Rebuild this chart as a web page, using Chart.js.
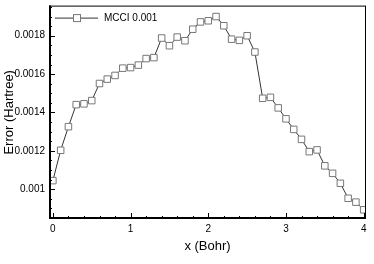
<!DOCTYPE html>
<html>
<head>
<meta charset="utf-8">
<script src="https://cdn.jsdelivr.net/npm/chart.js@4"></script>
<style>
  html, body { margin: 0; padding: 0; background: #fff; }
  #wrap { width: 374px; height: 264px; }
</style>
</head>
<body>
<div id="wrap"><canvas id="grafico" width="374" height="264"></canvas></div>
<script>
// data
const distancias = [0, 0.1, 0.2, 0.3, 0.4, 0.5, 0.6, 0.7, 0.8, 0.9,
  1.0, 1.1, 1.2, 1.3, 1.4, 1.5, 1.6, 1.7, 1.8, 1.9,
  2.0, 2.1, 2.2, 2.3, 2.4, 2.5, 2.6, 2.7, 2.8, 2.9,
  3.0, 3.1, 3.2, 3.3, 3.4, 3.5, 3.6, 3.7, 3.8, 3.9, 4.0];
const erros = [0.001045, 0.001203, 0.001326, 0.001441, 0.001445, 0.001462, 0.001551, 0.001574, 0.001593, 0.001631,
  0.001634, 0.001647, 0.001681, 0.001686, 0.001788, 0.001748, 0.001793, 0.001774, 0.001834, 0.001872,
  0.001878, 0.001900, 0.001852, 0.001782, 0.001776, 0.001800, 0.001715, 0.001474, 0.001479, 0.001424,
  0.001367, 0.001312, 0.001260, 0.001196, 0.001205, 0.001122, 0.001083, 0.001031, 0.000953, 0.000933, 0.000893];
const nomeSerie = 'MCCI 0.001';
const ticksX = [0, 1, 2, 3, 4];
const ticksY = [0.001, 0.0012, 0.0014, 0.0016, 0.0018];

const fonte = 'Liberation Sans, Arial, Helvetica, sans-serif';

function semMargens(s) {
  s.paddingTop = 0; s.paddingBottom = 0; s.paddingLeft = 0; s.paddingRight = 0;
}

// inward ticks, minor ticks and the box around the plot
const moldura = {
  id: 'moldura',
  afterDatasetsDraw(chart) {
    const { ctx, chartArea: a, scales: { x, y } } = chart;
    ctx.save();
    ctx.strokeStyle = '#000';
    ctx.lineWidth = 1;
    ctx.beginPath();
    for (let v = 0; v <= 4.001; v += 0.2) {
      const px = Math.round(x.getPixelForValue(v)) + 0.5;
      const major = Math.abs(v - Math.round(v)) < 1e-6;
      ctx.moveTo(px, a.bottom);
      ctx.lineTo(px, a.bottom - (major ? 6 : 3));
    }
    for (let v = 0.00085; v <= 0.00195; v += 0.00005) {
      const py = Math.round(y.getPixelForValue(v)) + 0.5;
      const major = ticksY.some(t => Math.abs(t - v) < 1e-9);
      ctx.moveTo(a.left, py);
      ctx.lineTo(a.left + (major ? 6 : 3), py);
    }
    ctx.stroke();
    ctx.lineWidth = 1;
    ctx.strokeRect(a.left + 0.5, a.top + 0.5, a.right - a.left - 1, a.bottom - a.top - 1);
    ctx.lineWidth = 2;
    ctx.beginPath();
    ctx.moveTo(a.left + 1, a.top);
    ctx.lineTo(a.left + 1, a.bottom - 1);
    ctx.lineTo(a.right, a.bottom - 1);
    ctx.stroke();

    // legend inside the plot
    const ds = chart.data.datasets[0];
    const ly = a.top + 12.5;
    ctx.lineWidth = 1;
    ctx.strokeStyle = ds.borderColor;
    ctx.beginPath();
    ctx.moveTo(a.left + 6, ly);
    ctx.lineTo(a.left + 49, ly);
    ctx.stroke();
    ctx.fillStyle = '#fff';
    ctx.strokeStyle = ds.pointBorderColor;
    ctx.fillRect(a.left + 24.5, ly - 3.5, 7, 7);
    ctx.strokeRect(a.left + 24.5, ly - 3.5, 7, 7);
    ctx.fillStyle = '#000';
    ctx.font = '10px ' + fonte;
    ctx.textBaseline = 'middle';
    ctx.fillText(ds.label, a.left + 55, ly);
    ctx.restore();
  }
};

const ctx = document.getElementById('grafico').getContext('2d');
new Chart(ctx, {
  type: 'line',
  data: {
    datasets: [{
      label: nomeSerie,
      data: distancias.map((d, i) => ({ x: d, y: erros[i] })),
      borderColor: '#333',
      borderWidth: 1,
      pointStyle: 'rect',
      pointRadius: 4.6,
      pointBackgroundColor: '#fff',
      pointBorderColor: '#777',
      pointBorderWidth: 1,
      fill: false,
      tension: 0
    }]
  },
  options: {
    responsive: false,
    animation: false,
    devicePixelRatio: 1,
    layout: { padding: { left: 0, top: 4, right: 8, bottom: 0 } },
    plugins: { legend: { display: false }, tooltip: { enabled: false } },
    scales: {
      x: {
        type: 'linear',
        min: -0.05,
        max: 4.03,
        grid: { display: false, drawTicks: false },
        border: { display: false },
        afterBuildTicks: s => { s.ticks = ticksX.map(v => ({ value: v })); },
        afterFit: s => { s.height = 45; semMargens(s); },
        ticks: { color: '#000', font: { family: fonte, size: 10 }, padding: 4, maxRotation: 0 },
        title: { display: true, text: 'x (Bohr)', color: '#000', font: { family: fonte, size: 13 }, padding: { top: 0, bottom: 10 } }
      },
      y: {
        min: 0.000845,
        max: 0.001957,
        grid: { display: false, drawTicks: false },
        border: { display: false },
        afterBuildTicks: s => { s.ticks = ticksY.map(v => ({ value: v })); },
        afterFit: s => { s.width = 49; semMargens(s); },
        ticks: { color: '#000', font: { family: fonte, size: 10 }, padding: 4, callback: v => String(+v.toFixed(4)) },
        title: { display: true, text: 'Error (Hartree)', color: '#000', font: { family: fonte, size: 13 }, padding: { top: 2, bottom: 0 } }
      }
    }
  },
  plugins: [moldura]
});
</script>
</body>
</html>
